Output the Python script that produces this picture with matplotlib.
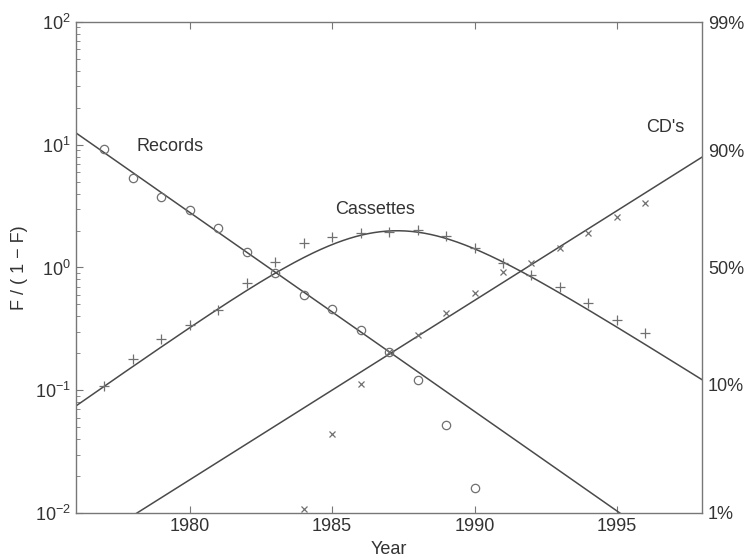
import matplotlib.pyplot as plt
import numpy as np

plt.rcParams['font.family'] = ['Liberation Sans', 'DejaVu Sans']

# observed F/(1-F) per year
rec_years = [1977, 1978, 1979, 1980, 1981, 1982, 1983, 1984, 1985, 1986, 1987, 1988, 1989, 1990]
rec_vals = [9.2, 5.4, 3.76, 2.94, 2.10, 1.34, 0.90, 0.60, 0.46, 0.31, 0.206, 0.122, 0.052, 0.016]

cas_years = [1977, 1978, 1979, 1980, 1981, 1982, 1983, 1984, 1985, 1986, 1987, 1988,
             1989, 1990, 1991, 1992, 1993, 1994, 1995, 1996]
cas_vals = [0.109, 0.18, 0.262, 0.34, 0.45, 0.75, 1.11, 1.58, 1.77, 1.91, 1.95, 2.02,
            1.81, 1.45, 1.09, 0.87, 0.695, 0.515, 0.374, 0.293]

cd_years = [1984, 1985, 1986, 1987, 1988, 1989, 1990, 1991, 1992, 1993, 1994, 1995, 1996]
cd_vals = [0.0108, 0.044, 0.113, 0.206, 0.282, 0.426, 0.62, 0.92, 1.09, 1.45, 1.91, 2.58, 3.36]

# fitted logistic lines: log10(F/(1-F)) at 1976 and slope per year
rec_fit = (1.096, -0.162)
cd_fit = (-2.312, 0.146)

pct_ticks = [0.01, 0.10, 0.50, 0.90, 0.99]
pct_labels = ['1%', '10%', '50%', '90%', '99%']

line_c = '#4a4a4a'
mark_c = '#707070'
text_c = '#333333'


def logit_line(fit, t):
    return 10 ** (fit[0] + fit[1] * (t - 1976))


t = np.linspace(1976, 1998, 400)
r_rec = logit_line(rec_fit, t)
r_cd = logit_line(cd_fit, t)
f_rec = r_rec / (1 + r_rec)
f_cd = r_cd / (1 + r_cd)
f_cas = 1 - f_rec - f_cd
r_cas = f_cas / (1 - f_cas)

fig = plt.figure(figsize=(7.44, 5.59), dpi=100)
ax = fig.add_axes([0.102, 0.082, 0.842, 0.879])

ax.semilogy(t, r_rec, color=line_c, lw=1.1)
ax.semilogy(t, r_cd, color=line_c, lw=1.1)
ax.semilogy(t, r_cas, color=line_c, lw=1.1)

ax.plot(rec_years, rec_vals, 'o', ms=6, mfc='none', mec=mark_c, mew=0.9)
ax.plot(cas_years, cas_vals, '+', ms=6.5, color=mark_c, mew=0.9)
ax.plot(cd_years, cd_vals, 'x', ms=5, color=mark_c, mew=0.9)

ax.set_xlim(1976, 1998)
ax.set_ylim(1e-2, 1e2)
ax.set_xticks([1980, 1985, 1990, 1995])
ax.tick_params(which='both', direction='in', top=True, right=True, colors='#777777',
               labelcolor=text_c, labelsize=13)
ax.tick_params(which='major', length=5)
ax.tick_params(which='minor', length=3)
for s in ax.spines.values():
    s.set_color('#777777')
    s.set_linewidth(1.0)

ax.set_xlabel('Year', fontsize=13, color=text_c, labelpad=4)
ax.set_ylabel('F / ( 1 \u2212 F)', fontsize=13, color=text_c, labelpad=5)

ax.text(1979.3, 9.6, 'Records', fontsize=13, color=text_c, ha='center', va='center')
ax.text(1986.5, 2.95, 'Cassettes', fontsize=13, color=text_c, ha='center', va='center')
ax.text(1996.7, 13.7, "CD's", fontsize=13, color=text_c, ha='center', va='center')

ax2 = ax.twinx()
ax2.set_yscale('log')
ax2.set_ylim(1e-2, 1e2)
ax2.set_yticks([p / (1 - p) for p in pct_ticks])
ax2.set_yticklabels(pct_labels)
ax2.minorticks_off()
ax2.tick_params(direction='in', length=0, labelsize=13, labelcolor=text_c, pad=4)
for s in ax2.spines.values():
    s.set_visible(False)

fig.savefig('out.png', dpi=100)
